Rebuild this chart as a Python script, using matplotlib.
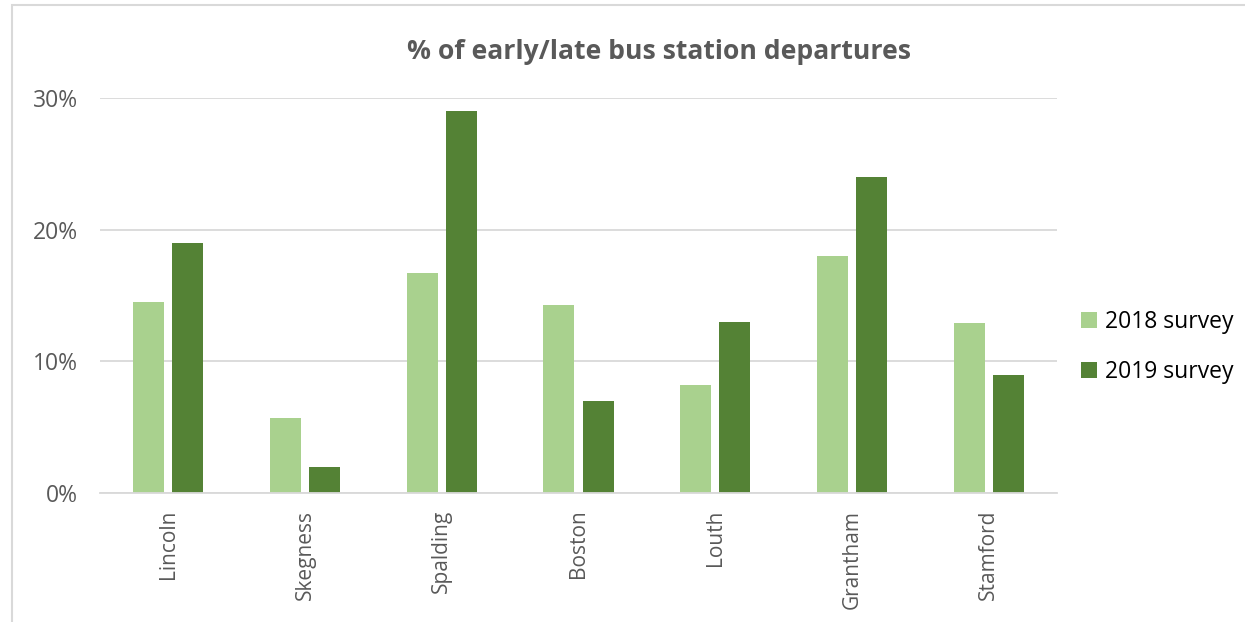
import matplotlib.pyplot as plt
import numpy as np
from matplotlib.patches import Rectangle
from matplotlib.ticker import PercentFormatter

plt.rcParams['font.family'] = ['Open Sans', 'DejaVu Sans']

# Share of bus station departures that were early or late
stations = ['Lincoln', 'Skegness', 'Spalding', 'Boston', 'Louth', 'Grantham', 'Stamford']
survey_2018 = [0.145, 0.057, 0.167, 0.143, 0.082, 0.180, 0.129]
survey_2019 = [0.19, 0.02, 0.29, 0.07, 0.13, 0.24, 0.09]

light_green = '#A9D18E'
dark_green = '#548235'
grey_text = '#595959'
grid_grey = '#D9D9D9'

fig = plt.figure(figsize=(12.45, 6.22), dpi=100)
ax = fig.add_axes([100 / 1245, 1 - 493 / 622, 957 / 1245, 395 / 622])

x = np.arange(len(stations))
width = 0.227
offset = 0.143
ax.bar(x - offset, survey_2018, width, color=light_green, label='2018 survey', zorder=2)
ax.bar(x + offset, survey_2019, width, color=dark_green, label='2019 survey', zorder=2)

ax.set_xlim(-0.5, len(stations) - 0.5)
ax.set_ylim(0, 0.30)
ax.set_yticks([0, 0.1, 0.2, 0.3])
ax.yaxis.set_major_formatter(PercentFormatter(1.0, decimals=0))
ax.grid(axis='y', color=grid_grey, linewidth=1.3, zorder=0)

ax.set_xticks(x)
ax.set_xticklabels(stations, rotation=90, fontsize=15, color=grey_text)
ax.tick_params(axis='x', length=0, pad=12)
ax.tick_params(axis='y', length=0, pad=16, labelsize=16.5, labelcolor=grey_text)

for side in ['top', 'right', 'left']:
    ax.spines[side].set_visible(False)
ax.spines['bottom'].set_color(grid_grey)
ax.spines['bottom'].set_linewidth(1.3)

fig.text(659 / 1245, 1 - 52 / 622, '% of early/late bus station departures',
         ha='center', va='center', fontsize=19.1, fontweight='bold', color=grey_text)

fig.legend(loc='center left', bbox_to_anchor=(1060 / 1245, 1 - 347 / 622), frameon=False,
           fontsize=16.5, handlelength=0.7, handleheight=0.7, handletextpad=0.35,
           labelspacing=1.15, labelcolor='black')

# Chart frame along the top and left edges
fig.patches.append(Rectangle((12 / 1245, -0.5), 2.0, 1.5 - 5 / 622,
                             transform=fig.transFigure, fill=False,
                             edgecolor=grid_grey, linewidth=1.5))

fig.savefig('out.png', dpi=100)
